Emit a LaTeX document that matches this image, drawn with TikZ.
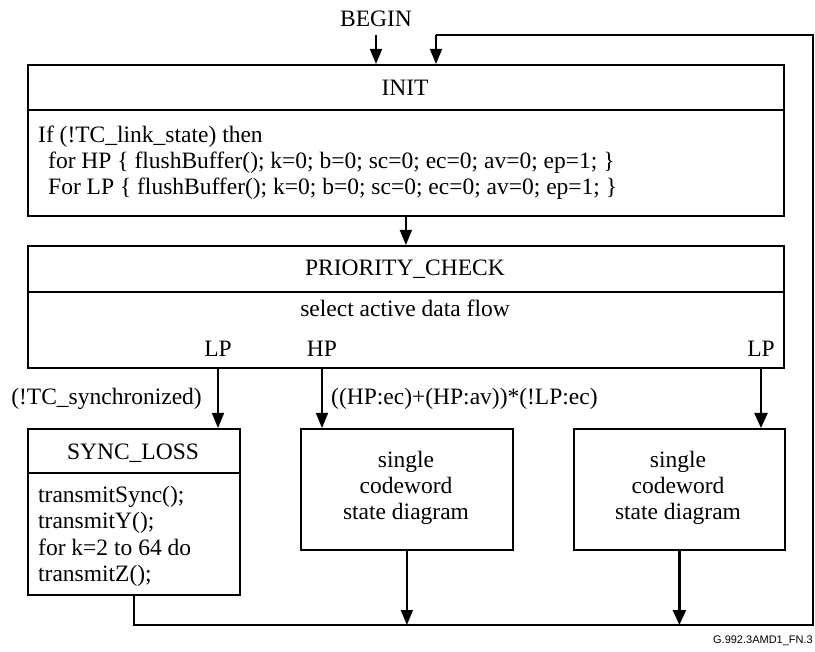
\documentclass[tikz,border=0pt]{standalone}
\usepackage{fontspec}
\setmainfont{Liberation Serif}
\newfontfamily\footerfont{Liberation Sans}
\usetikzlibrary{arrows.meta}
\begin{document}
\begin{tikzpicture}[x=1pt,y=-1pt,
  every node/.style={inner sep=0pt, font=\fontsize{23.5}{25.5}\selectfont},
  box/.style={draw, line width=1.8pt, anchor=north west, inner sep=0pt},
  arr/.style={line width=1.6pt, -{Triangle[length=15pt,width=12pt]}},
  thickarr/.style={line width=2.4pt, -{Triangle[length=15pt,width=13pt]}},
  link/.style={line width=1.6pt},
  txt/.style={anchor=base west},
  ctxt/.style={anchor=base}]
\useasboundingbox (0,0) rectangle (815,652);

% boxes
\node[box, minimum width=756pt, minimum height=151pt] (init) at (27,64) {};
\node[box, minimum width=756pt, minimum height=122pt] (prio) at (27,245) {};
\node[box, minimum width=212pt, minimum height=166pt] (sync) at (27,428) {};
\node[box, minimum width=212pt, minimum height=121pt] (cwa) at (300,428) {};
\node[box, minimum width=211pt, minimum height=121pt] (cwb) at (573,428) {};

% dividers under the box titles
\draw[line width=1.8pt] (init.west |- 0,110) -- (init.east |- 0,110);
\draw[line width=1.8pt] (prio.west |- 0,292) -- (prio.east |- 0,292);
\draw[line width=1.8pt] (sync.west |- 0,473) -- (sync.east |- 0,473);

% INIT
\node[ctxt] (begin) at (376,27) {BEGIN};
\node[ctxt] (initT) at (405,96) {INIT};
\node[txt] (i1) at (38,143) {If (!TC\_link\_state) then};
\node[txt] (i2) at (48,169) {for HP \{ flushBuffer(); k=0; b=0; sc=0; ec=0; av=0; ep=1; \}};
\node[txt] (i3) at (48,195) {For LP \{ flushBuffer(); k=0; b=0; sc=0; ec=0; av=0; ep=1; \}};

% PRIORITY_CHECK
\node[ctxt] (prioT) at (405,276) {PRIORITY\_CHECK};
\node[ctxt] (sel) at (405,317) {select active data flow};
\node[ctxt] (lpa) at (218,357) {LP};
\node[ctxt] (hp) at (322,357) {HP};
\node[ctxt] (lpb) at (761,357) {LP};

% branch conditions
\node[anchor=base east] (cs) at (202,405) {(!TC\_synchronized)};
\node[anchor=base west] (ch) at (331,405) {((HP:ec)+(HP:av))*(!LP:ec)};

% SYNC_LOSS
\node[ctxt] (syncT) at (133,460) {SYNC\_LOSS};
\node[txt] (s1) at (38,503) {transmitSync();};
\node[txt] (s2) at (38,529) {transmitY();};
\node[txt] (s3) at (38,555) {for k=2 to 64 do};
\node[txt] (s4) at (38,581) {transmitZ();};

% codeword boxes
\foreach \b/\x in {a/406,b/678}{
  \node[ctxt] (cw\b1) at (\x,468) {single};
  \node[ctxt] (cw\b2) at (\x,494) {codeword};
  \node[ctxt] (cw\b3) at (\x,520) {state diagram};
}

% figure tag
\node[anchor=base east, font=\footerfont\fontsize{11}{13}\selectfont] (tag) at (813,643) {G.992.3AMD1\_FN.3};

% return path
\coordinate (br) at (813,625);
\coordinate (tr) at (813,35);
\coordinate (ret) at (436,35);

% connectors
\draw[arr] (begin.south |- 0,35) -- (begin.south |- init.north);
\draw[arr] (init.south) -- (prio.north);
\draw[arr] (lpa |- prio.south) -- (lpa |- sync.north);
\draw[arr] (hp |- prio.south) -- (hp |- cwa.north);
\draw[thickarr] (lpb |- prio.south) -- (lpb |- cwb.north);
\draw[arr] (cwa.south) -- (cwa.south |- br);
\draw[thickarr] (cwb.south) -- (cwb.south |- br);
\draw[link] (sync.south) -- (sync.south |- br) -- (br) -- (tr) -- (ret);
\draw[arr] (ret) -- (ret |- init.north);
\end{tikzpicture}
\end{document}
